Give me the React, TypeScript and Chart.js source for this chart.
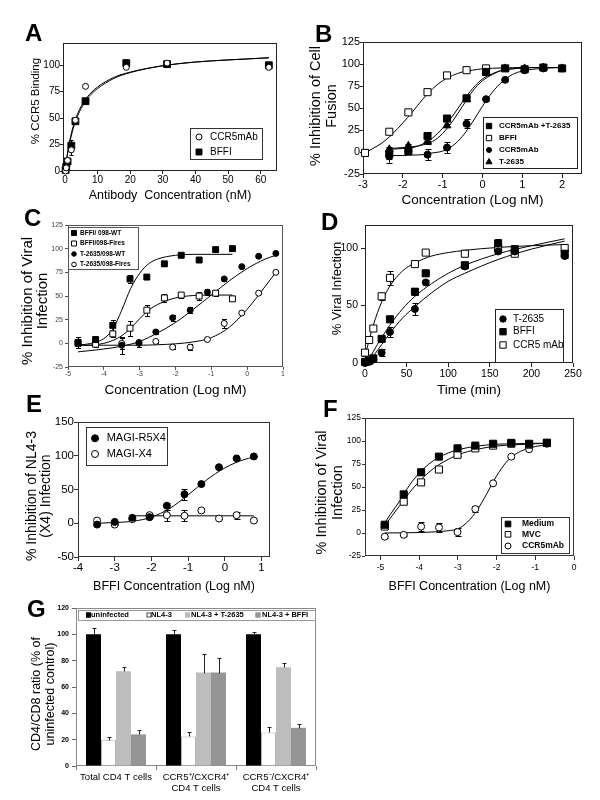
import React, { useEffect, useRef } from 'react';
import { Chart, registerables } from 'chart.js';

Chart.register(...registerables);

const FONT = '"Liberation Sans", Arial, Helvetica, sans-serif';

/* ---------------- Panel A ---------------- */
const aXTitle = 'Antibody  Concentration (nM)';
const aYTitle = ['% CCR5 Binding'];
const aXTicks = [0, 10, 20, 30, 40, 50, 60];
const aYTicks = [0, 25, 50, 75, 100];
const aNames = ['CCR5mAb', 'BFFI'];
const aDose = [0.2, 0.4, 0.8, 1.95, 3.2, 6.3, 18.8, 31.3, 62.5];
const aCCR5mAb = [0, 3, 10, 20, 48, 80, 98, 102, 98];
const aCCR5mAbErr = [0, 0, 1, 5, 2, 0, 1, 1, 1];
const aBFFI = [1, 4, 9, 24, 47, 66, 102, 101, 100];
const aBFFIErr = [0, 1, 2, 5, 2, 1, 1, 1, 1];
const aFitDose = [0, 1, 2, 3, 4, 6, 8, 10, 15, 20, 30, 40, 50, 62.5];
const aFitCCR5mAb = [0, 21, 36, 47, 55, 66.5, 74, 79.5, 88.5, 93.5, 99.5, 103, 105, 107];
const aFitBFFI = [0, 20, 34, 45, 53, 64.5, 72.5, 78, 87.5, 93, 99.5, 103, 105, 107];

/* ---------------- Panel B ---------------- */
const bXTitle = 'Concentration (Log nM)';
const bYTitle = ['% Inhibition of Cell', 'Fusion'];
const bXTicks = [-3, -2, -1, 0, 1, 2];
const bYTicks = [-25, 0, 25, 50, 75, 100, 125];
const bNames = ['CCR5mAb +T-2635', 'BFFI', 'CCR5mAb', 'T-2635'];
const bBFFIDose = [-2.95, -2.34, -1.86, -1.38, -0.89, -0.4, 0.09];
const bBFFI = [-1, 23, 45, 68, 87, 93, 95];
const bBFFIErr = [4, 3, 1, 1, 1, 1, 1];
const bDose = [-2.34, -1.86, -1.38, -0.89, -0.4, 0.09, 0.57, 1.06, 1.53, 2.0];
const bCombo = [-2, 1, 18, 38, 61, 91, 95, 94, 96, 95];
const bComboErr = [6, 3, 5, 3, 3, 3, 1, 1, 1, 1];
const bMab = [-5, 1, -3, 5, 32, 60, 82, 93, 95, 95];
const bMabErr = [7, 2, 6, 6, 5, 2, 1, 1, 1, 1];
const bT2635 = [3, 7, 12, 30, 60, 92, 95, 95, 96, 95];
const bT2635Err = [3, 2, 3, 2, 2, 1, 1, 1, 1, 1];
const bFitBFFIDose = [-2.95, -2.75, -2.5, -2.25, -2.0, -1.75, -1.5, -1.25, -1.0, -0.75, -0.5, -0.25, 0, 0.5, 1.0, 1.5, 2.0];
const bFitBFFI = [-1, 4, 11, 21, 33, 46, 60, 72, 81, 87, 91, 93, 94.5, 95.5, 96, 96, 96];
const bFitDose = [-2.34, -2.0, -1.75, -1.5, -1.25, -1.0, -0.75, -0.5, -0.25, 0, 0.25, 0.5, 0.75, 1.0, 1.5, 2.0];
const bFitCombo = [3, 4, 5, 9, 16, 27, 41, 57, 72, 83, 89, 93, 94.5, 95.5, 96, 96];
const bFitT2635 = [4, 5, 6, 8, 12, 21, 35, 52, 69, 81, 88, 93, 94.5, 95.5, 96, 96];
const bFitMab = [-4, -4, -3.5, -3, -1, 1, 7, 18, 34, 52, 68, 80, 88, 92, 95, 96];

/* ---------------- Panel C ---------------- */
const cXTitle = 'Concentration (Log nM)';
const cYTitle = ['% Inhibition of Viral', 'Infection'];
const cXTicks = [-5, -4, -3, -2, -1, 0, 1];
const cYTicks = [-25, 0, 25, 50, 75, 100, 125];
const cNames = ['BFFI/ 098-WT', 'BFFI/098-Fires', 'T-2635/098-WT', 'T-2635/098-Fires'];
const cBFFIDose = [-4.72, -4.23, -3.75, -3.27, -2.8, -2.31, -1.84, -1.34, -0.88, -0.41];
const cBFFIWT = [1, 4, 19, 68, 70, 84, 93, 88, 99, 100];
const cBFFIWTErr = [6, 2, 6, 4, 0, 2, 1, 0, 0, 0];
const cBFFIFires = [0, -1, 10, 16, 35, 48, 51, 50, 53, 47];
const cBFFIFiresErr = [3, 3, 3, 8, 6, 4, 3, 4, 3, 0];
const cTDose = [-3.5, -3.02, -2.55, -2.08, -1.59, -1.11, -0.64, -0.15, 0.32, 0.8];
const cT2635WT = [-2, 0, 12, 27, 35, 54, 68, 81, 92, 95];
const cT2635WTErr = [9, 4, 2, 3, 3, 3, 2, 1, 1, 1];
const cT2635Fires = [0, 1, 2, -4, -4, 4, 21, 32, 53, 75];
const cT2635FiresErr = [6, 2, 2, 2, 3, 1, 5, 1, 1, 1];
const cFitBFFIDose = [-4.72, -4.5, -4.25, -4.0, -3.75, -3.5, -3.25, -3.0, -2.75, -2.5, -2.0, -1.5, -1.0, -0.41];
const cFitBFFIWT = [-2, -1, 1, 5, 15, 35, 58, 74, 84, 89, 93, 94, 94, 94];
const cFitBFFIFires = [-2, -2, -1.5, 0, 3, 8, 16, 26, 35, 41, 48, 50.5, 51, 51];
const cFitTDose = [-4.72, -4.0, -3.5, -3.0, -2.5, -2.0, -1.5, -1.0, -0.5, 0, 0.5, 0.8];
const cFitT2635WT = [-9, -6, -3, 2, 11, 22, 36, 51, 66, 79, 89, 93];
const cFitT2635Fires = [-2, -2, -2, -2, -1.5, -0.5, 1.5, 6, 17, 36, 60, 75];

/* ---------------- Panel D ---------------- */
const dXTitle = 'Time (min)';
const dYTitle = ['% Viral Infection'];
const dXTicks = [0, 50, 100, 150, 200, 250];
const dYTicks = [0, 50, 100];
const dNames = ['T-2635', 'BFFI', 'CCR5 mAb'];
const dTime = [0, 5, 10, 20, 30, 60, 73, 120, 160, 180, 240];
const dT2635 = [0, 1, 3, 9, 27, 47, 70, 84, 97, 97, 93];
const dT2635Err = [1, 1, 2, 3, 4, 5, 2, 1, 1, 1, 2];
const dBFFI = [1, 2, 4, 21, 38, 62, 78, 85, 104, 99, 95];
const dBFFIErr = [1, 1, 3, 2, 2, 3, 1, 1, 4, 1, 3];
const dCCR5 = [9, 20, 30, 58, 74, 86, 96, 95, 100, 95, 100];
const dCCR5Err = [3, 2, 2, 3, 6, 1, 1, 1, 1, 1, 3];
const dFitTime = [3, 5, 10, 20, 30, 45, 60, 80, 100, 120, 160, 200, 240];
const dFitT2635 = [0, 1, 6, 16, 26, 39, 49, 61, 71, 78, 90, 99, 106];
const dFitBFFI = [0, 3, 10, 22, 33, 47, 58, 69, 78, 85, 95, 102, 108];
const dFitCCRTime = [0, 5, 10, 20, 30, 45, 60, 80, 100, 120, 160, 200, 240];
const dFitCCR5 = [6, 20, 33, 53, 67, 80, 87, 93, 96, 98, 100.5, 102, 103];

/* ---------------- Panel E ---------------- */
const eXTitle = 'BFFI Concentration (Log nM)';
const eYTitle = ['% Inhibition of NL4-3', '(X4) Infection'];
const eXTicks = [-4, -3, -2, -1, 0, 1];
const eYTicks = [-50, 0, 50, 100, 150];
const eNames = ['MAGI-R5X4', 'MAGI-X4'];
const eDose = [-3.48, -3.0, -2.52, -2.05, -1.58, -1.1, -0.64, -0.16, 0.32, 0.79];
const eR5X4 = [-2, 2, 8, 9, 26, 43, 58, 83, 96, 99];
const eR5X4Err = [1, 1, 2, 1, 4, 8, 2, 1, 1, 1];
const eX4 = [4, -2, 6, 12, 12, 11, 19, 7, 12, 4];
const eX4Err = [1, 1, 1, 1, 8, 8, 2, 1, 5, 1];
const eFitDose = [-3.48, -3.0, -2.5, -2.0, -1.5, -1.0, -0.5, 0, 0.5, 0.79];
const eFitR5X4 = [0, 1, 3, 9, 22, 42, 64, 82, 94, 98];
const eFitX4Dose = [-2.6, 0.79];
const eFitX4 = [11, 11];

/* ---------------- Panel F ---------------- */
const fXTitle = 'BFFI Concentration (Log nM)';
const fYTitle = ['% Inhibition of Viral', 'Infection'];
const fXTicks = [-5, -4, -3, -2, -1, 0];
const fYTicks = [-25, 0, 25, 50, 75, 100, 125];
const fNames = ['Medium', 'MVC', 'CCR5mAb'];
const fDose = [-4.89, -4.4, -3.95, -3.49, -3.01, -2.55, -2.09, -1.62, -1.16, -0.7];
const fMedium = [9, 42, 66, 83, 92, 95, 97, 98, 97, 98];
const fMediumErr = [1, 1, 1, 1, 1, 1, 1, 1, 1, 1];
const fMVC = [7, 34, 55, 69, 85, 92, 95, 97, 96, 98];
const fMVCErr = [1, 1, 2, 2, 1, 1, 1, 1, 1, 1];
const fCCR5mAb = [-4, -2, 7, 6, 1, 26, 54, 83, 91, 97];
const fCCR5mAbErr = [1, 1, 5, 5, 4, 3, 1, 1, 1, 1];
const fFitDose = [-4.89, -4.75, -4.5, -4.25, -4.0, -3.75, -3.5, -3.25, -3.0, -2.5, -2.0, -1.5, -1.0, -0.7];
const fFitMedium = [11, 20, 35, 52, 65, 75, 82, 87, 90.5, 94.5, 96.5, 97, 97.5, 97.5];
const fFitMVC = [8, 16, 30, 44, 56, 66, 74, 80, 85, 91, 94.5, 96, 97, 97.5];
const fFitCCRDose = [-4.89, -4.0, -3.5, -3.25, -3.0, -2.75, -2.5, -2.25, -2.0, -1.75, -1.5, -1.25, -1.0, -0.7];
const fFitCCR5mAb = [0, 0.5, 1.5, 2.5, 4.5, 12, 25, 43, 62, 77, 86, 91, 94, 96];

/* ---------------- Panel G ---------------- */
const gYTitle = ['CD4/CD8 ratio (% of', 'uninfected control)'];
const gYTicks = [0, 20, 40, 60, 80, 100, 120];
const gCategories = ['Total CD4 T cells', ['CCR5\u207A/CXCR4\u207A', 'CD4 T cells'], ['CCR5\u207B/CXCR4\u207A', 'CD4 T cells']];
const gNames = ['uninfected', 'NL4-3', 'NL4-3 + T-2635', 'NL4-3 + BFFI'];
const gUninfected = [100, 100, 100];
const gUninfectedErr = [4.5, 3.5, 2];
const gNL43 = [20, 22.5, 25.5];
const gNL43Err = [2, 3.5, 4.5];
const gT2635 = [72, 71, 75];
const gT2635Err = [3, 14, 3.5];
const gBFFI = [24, 71, 29];
const gBFFIErr = [3, 11, 3];

/* ---------------- helpers ---------------- */
type Rect = [number, number, number, number];
type Marker = { style: 'circle' | 'rect' | 'triangle'; fill: boolean; r: number };

function drawMarker(ctx: CanvasRenderingContext2D, x: number, y: number, m: Marker) {
  ctx.save();
  ctx.beginPath();
  if (m.style === 'circle') ctx.arc(x, y, m.r, 0, Math.PI * 2);
  else if (m.style === 'rect') {
    const s = m.r * Math.SQRT1_2;
    ctx.rect(x - s, y - s, 2 * s, 2 * s);
  } else {
    const a = (2 * Math.PI) / 3;
    ctx.moveTo(x, y - m.r);
    ctx.lineTo(x + m.r * Math.sin(a), y - m.r * Math.cos(a));
    ctx.lineTo(x + m.r * Math.sin(2 * a), y - m.r * Math.cos(2 * a));
    ctx.closePath();
  }
  ctx.fillStyle = m.fill ? '#000' : '#fff';
  ctx.fill();
  ctx.lineWidth = 1;
  ctx.strokeStyle = '#000';
  ctx.stroke();
  ctx.restore();
}

const framePlugin = {
  id: 'frame',
  beforeDatasetsDraw(chart: any, _a: any, o: any) {
    const { left, top, right, bottom } = chart.chartArea;
    const ctx = chart.ctx;
    ctx.save();
    ctx.strokeStyle = o.color || '#000';
    ctx.lineWidth = 1;
    ctx.strokeRect(Math.round(left) + 0.5, Math.round(top) + 0.5, Math.round(right - left) - 1, Math.round(bottom - top) - 1);
    ctx.restore();
  },
};

function drawErrors(chart: any, o: any) {
  const ctx = chart.ctx;
  ctx.save();
  ctx.strokeStyle = o.color || '#000';
  ctx.lineWidth = 1;
  chart.data.datasets.forEach((ds: any, di: number) => {
    const errs = ds.errors;
    if (!errs) return;
    const meta = chart.getDatasetMeta(di);
    const ys = chart.scales[meta.yAxisID];
    meta.data.forEach((el: any, i: number) => {
      const e = errs[i];
      if (!e) return;
      const raw = ds.data[i];
      const v = typeof raw === 'number' ? raw : raw.y;
      const x = Math.round(el.x) + 0.5;
      const yTop = Math.round(ys.getPixelForValue(v + e)) + 0.5;
      const yBot = Math.round(ys.getPixelForValue(o.up ? v : v - e)) + 0.5;
      const c = o.cap;
      ctx.beginPath();
      ctx.moveTo(x, yTop);
      ctx.lineTo(x, yBot);
      ctx.moveTo(x - c, yTop);
      ctx.lineTo(x + c, yTop);
      if (!o.up) {
        ctx.moveTo(x - c, yBot);
        ctx.lineTo(x + c, yBot);
      }
      ctx.stroke();
    });
  });
  ctx.restore();
}

const errorBarPlugin = {
  id: 'errorBars',
  beforeDatasetsDraw(chart: any, _a: any, o: any) {
    if (!o.after) drawErrors(chart, o);
  },
  afterDatasetsDraw(chart: any, _a: any, o: any) {
    if (o.after) drawErrors(chart, o);
  },
};

const boxLegendPlugin = {
  id: 'boxLegend',
  afterDatasetsDraw(chart: any, _a: any, o: any) {
    const ctx = chart.ctx;
    const b = o.box;
    ctx.save();
    ctx.fillStyle = '#fff';
    ctx.fillRect(b[0], b[1], b[2] - b[0], b[3] - b[1]);
    ctx.strokeStyle = o.border || '#000';
    ctx.lineWidth = 1;
    ctx.strokeRect(b[0] + 0.5, b[1] + 0.5, b[2] - b[0], b[3] - b[1]);
    ctx.font = o.fontCss;
    ctx.textBaseline = 'middle';
    ctx.textAlign = 'left';
    o.items.forEach((it: any) => {
      if (it.swatch) {
        const s = it.size;
        ctx.fillStyle = it.swatch;
        ctx.fillRect(it.x, it.y - s / 2, s, s);
        ctx.strokeStyle = it.stroke;
        ctx.strokeRect(it.x + 0.5, it.y - s / 2 + 0.5, s - 1, s - 1);
      } else {
        drawMarker(ctx, it.x, it.y, { style: it.style, fill: it.fill, r: it.r });
      }
      ctx.fillStyle = '#000';
      ctx.fillText(it.label, it.tx, it.y);
    });
    ctx.restore();
  },
};

const yTitlePlugin = {
  id: 'yTitle',
  afterDraw(chart: any, _a: any, o: any) {
    const ctx = chart.ctx;
    ctx.save();
    ctx.font = o.fontCss;
    ctx.fillStyle = '#000';
    ctx.textAlign = 'center';
    ctx.textBaseline = 'middle';
    ctx.translate(o.x, o.y);
    ctx.rotate(-Math.PI / 2);
    o.lines.forEach((l: string, i: number) => ctx.fillText(l, 0, i * o.dy));
    ctx.restore();
  },
};

type Series = { label: string; xs: number[]; ys: number[]; errs?: number[]; marker: Marker; legendR: number };
type Curve = { xs: number[]; ys: number[] };

interface ScatterSpec {
  canvas: Rect;
  plot: Rect;
  xMin: number; xMax: number; xTicks: number[]; xTitle: string; xTitleSize: number; xTitleY: number;
  yMin: number; yMax: number; yTicks: number[];
  yTitle: string[]; yTitleSize: number; yTitleX: number; yTitleDy: number; yTitleY: number;
  tickSize: number; tickColor: string; lineColor: string;
  tlX: number; padX: number; tlY: number; padY: number;
  series: Series[]; curves: Curve[];
  legendBox: Rect; legendFont: string; legendMX: number; legendTX: number; legendY: number[]; legendBorder: string;
  cap: number;
}

function scatterConfig(s: ScatterSpec): any {
  const [cx, cy, cw, ch] = s.canvas;
  const [pl, pt, pr, pb] = s.plot;
  const tickFont = { family: FONT, size: s.tickSize, lineHeight: 1.2 };
  const xTitlePad = cy + ch - s.xTitleY - (s.xTitleSize * 1.2) / 2;
  const datasets: any[] = [];
  s.series.forEach((se) => {
    datasets.push({
      label: se.label,
      data: se.xs.map((x, i) => ({ x, y: se.ys[i] })),
      errors: se.errs,
      showLine: false,
      pointStyle: se.marker.style,
      pointRadius: se.marker.r,
      pointBorderWidth: 1,
      pointBackgroundColor: se.marker.fill ? '#000' : '#fff',
      pointBorderColor: '#000',
      clip: false,
    });
  });
  s.curves.forEach((c) =>
    datasets.push({
      data: c.xs.map((x, i) => ({ x, y: c.ys[i] })),
      showLine: true,
      pointRadius: 0,
      borderColor: '#000',
      borderWidth: 1,
      cubicInterpolationMode: 'monotone',
      fill: false,
    })
  );
  const b = s.legendBox;
  return {
    type: 'scatter',
    data: { datasets },
    options: {
      responsive: false,
      animation: false,
      devicePixelRatio: 1,
      events: [],
      layout: { padding: { left: 0, top: pt - cy, right: cx + cw - pr, bottom: 0 } },
      scales: {
        x: {
          type: 'linear',
          position: 'bottom',
          min: s.xMin,
          max: s.xMax,
          afterBuildTicks: (sc: any) => {
            sc.ticks = s.xTicks.map((v) => ({ value: v }));
          },
          afterFit: (sc: any) => {
            sc.height = cy + ch - pb;
          },
          grid: { drawOnChartArea: false, drawTicks: true, tickLength: s.tlX, color: s.lineColor, lineWidth: 1 },
          border: { display: false },
          ticks: { font: tickFont, color: s.tickColor, padding: s.padX, maxRotation: 0, autoSkip: false, callback: (v: any) => String(v) },
          title: {
            display: true,
            text: s.xTitle,
            color: '#000',
            font: { family: FONT, size: s.xTitleSize, lineHeight: 1.2 },
            padding: { top: 0, bottom: xTitlePad },
          },
        },
        y: {
          type: 'linear',
          position: 'left',
          min: s.yMin,
          max: s.yMax,
          afterBuildTicks: (sc: any) => {
            sc.ticks = s.yTicks.map((v) => ({ value: v }));
          },
          afterFit: (sc: any) => {
            sc.width = pl - cx;
          },
          grid: { drawOnChartArea: false, drawTicks: true, tickLength: s.tlY, color: s.lineColor, lineWidth: 1 },
          border: { display: false },
          ticks: { font: tickFont, color: s.tickColor, padding: s.padY, callback: (v: any) => String(v) },
        },
      },
      plugins: {
        legend: { display: false },
        tooltip: { enabled: false },
        frame: { color: s.lineColor },
        errorBars: { cap: s.cap, color: '#000', up: false, after: false },
        boxLegend: {
          box: [b[0] - cx, b[1] - cy, b[2] - cx, b[3] - cy],
          border: s.legendBorder,
          fontCss: s.legendFont,
          items: s.series.map((se, i) => ({
            label: se.label,
            style: se.marker.style,
            fill: se.marker.fill,
            r: se.legendR,
            x: s.legendMX - cx,
            y: s.legendY[i] - cy,
            tx: s.legendTX - cx,
          })),
        },
        yTitle: {
          lines: s.yTitle,
          fontCss: `${s.yTitleSize}px ${FONT}`,
          x: s.yTitleX - cx,
          y: s.yTitleY - cy,
          dy: s.yTitleDy,
        },
      },
    },
    plugins: [framePlugin, errorBarPlugin, boxLegendPlugin, yTitlePlugin],
  };
}

/* ---------------- panel specs ---------------- */
const circleO = (r: number): Marker => ({ style: 'circle', fill: false, r });
const circleF = (r: number): Marker => ({ style: 'circle', fill: true, r });
const rectO = (r: number): Marker => ({ style: 'rect', fill: false, r });
const rectF = (r: number): Marker => ({ style: 'rect', fill: true, r });
const triF = (r: number): Marker => ({ style: 'triangle', fill: true, r });

const specA: ScatterSpec = {
  canvas: [0, 0, 300, 206], plot: [63, 43, 277, 171],
  xMin: -0.6, xMax: 65, xTicks: aXTicks, xTitle: aXTitle, xTitleSize: 12.5, xTitleY: 196,
  yMin: 0, yMax: 121, yTicks: aYTicks,
  yTitle: aYTitle, yTitleSize: 11.5, yTitleX: 36, yTitleDy: 14, yTitleY: 101,
  tickSize: 10, tickColor: '#000', lineColor: '#222', tlX: 3, padX: 0, tlY: 3, padY: 0,
  series: [
    { label: aNames[0], xs: aDose, ys: aCCR5mAb, errs: aCCR5mAbErr, marker: circleO(3), legendR: 3 },
    { label: aNames[1], xs: aDose, ys: aBFFI, errs: aBFFIErr, marker: rectF(4.8), legendR: 4.2 },
  ],
  curves: [
    { xs: aFitDose, ys: aFitCCR5mAb },
    { xs: aFitDose, ys: aFitBFFI },
  ],
  legendBox: [190, 128, 262, 159], legendFont: `10px ${FONT}`, legendMX: 199, legendTX: 210, legendY: [137, 152], legendBorder: '#333',
  cap: 2,
};

const specB: ScatterSpec = {
  canvas: [300, 0, 300, 210], plot: [363, 42, 582, 174],
  xMin: -3, xMax: 2.5, xTicks: bXTicks, xTitle: bXTitle, xTitleSize: 13.5, xTitleY: 200,
  yMin: -25, yMax: 125, yTicks: bYTicks,
  yTitle: bYTitle, yTitleSize: 14.5, yTitleX: 316, yTitleDy: 16, yTitleY: 106,
  tickSize: 11, tickColor: '#000', lineColor: '#222', tlX: 4, padX: 0, tlY: 3, padY: 0,
  series: [
    { label: bNames[0], xs: bDose, ys: bCombo, errs: bComboErr, marker: rectF(5), legendR: 3.8 },
    { label: bNames[1], xs: bBFFIDose, ys: bBFFI, errs: bBFFIErr, marker: rectO(5), legendR: 3.8 },
    { label: bNames[2], xs: bDose, ys: bMab, errs: bMabErr, marker: circleF(3.5), legendR: 2.5 },
    { label: bNames[3], xs: bDose, ys: bT2635, errs: bT2635Err, marker: triF(4.5), legendR: 3.5 },
  ],
  curves: [
    { xs: bFitBFFIDose, ys: bFitBFFI },
    { xs: bFitDose, ys: bFitCombo },
    { xs: bFitDose, ys: bFitT2635 },
    { xs: bFitDose, ys: bFitMab },
  ],
  legendBox: [483, 117, 577, 168], legendFont: `bold 8px ${FONT}`, legendMX: 489, legendTX: 499, legendY: [126, 138, 150, 162], legendBorder: '#222',
  cap: 3,
};

const specC: ScatterSpec = {
  canvas: [0, 205, 300, 195], plot: [68, 225, 283, 367],
  xMin: -5, xMax: 1, xTicks: cXTicks, xTitle: cXTitle, xTitleSize: 13.5, xTitleY: 390,
  yMin: -25, yMax: 125, yTicks: cYTicks,
  yTitle: cYTitle, yTitleSize: 15, yTitleX: 27.5, yTitleDy: 15.5, yTitleY: 301,
  tickSize: 7, tickColor: '#444', lineColor: '#555', tlX: 3, padX: 0, tlY: 3, padY: 2,
  series: [
    { label: cNames[0], xs: cBFFIDose, ys: cBFFIWT, errs: cBFFIWTErr, marker: rectF(4.2), legendR: 3.5 },
    { label: cNames[1], xs: cBFFIDose, ys: cBFFIFires, errs: cBFFIFiresErr, marker: rectO(4.2), legendR: 3.5 },
    { label: cNames[2], xs: cTDose, ys: cT2635WT, errs: cT2635WTErr, marker: circleF(3), legendR: 2.3 },
    { label: cNames[3], xs: cTDose, ys: cT2635Fires, errs: cT2635FiresErr, marker: circleO(3), legendR: 2.3 },
  ],
  curves: [
    { xs: cFitBFFIDose, ys: cFitBFFIWT },
    { xs: cFitBFFIDose, ys: cFitBFFIFires },
    { xs: cFitTDose, ys: cFitT2635WT },
    { xs: cFitTDose, ys: cFitT2635Fires },
  ],
  legendBox: [68, 227, 138, 269], legendFont: `bold 6.5px ${FONT}`, legendMX: 74, legendTX: 80, legendY: [233, 243.5, 254, 264.5], legendBorder: '#555',
  cap: 2.5,
};

const specD: ScatterSpec = {
  canvas: [300, 210, 300, 190], plot: [365, 225, 573, 363],
  xMin: 0, xMax: 250, xTicks: dXTicks, xTitle: dXTitle, xTitleSize: 13.5, xTitleY: 390,
  yMin: 0, yMax: 120, yTicks: dYTicks,
  yTitle: dYTitle, yTitleSize: 13, yTitleX: 337, yTitleDy: 15, yTitleY: 288.5,
  tickSize: 10.5, tickColor: '#000', lineColor: '#222', tlX: 4, padX: 1, tlY: 4, padY: 3,
  series: [
    { label: dNames[0], xs: dTime, ys: dT2635, errs: dT2635Err, marker: circleF(3.5), legendR: 3.2 },
    { label: dNames[1], xs: dTime, ys: dBFFI, errs: dBFFIErr, marker: rectF(5), legendR: 4.5 },
    { label: dNames[2], xs: dTime, ys: dCCR5, errs: dCCR5Err, marker: rectO(5), legendR: 4.5 },
  ],
  curves: [
    { xs: dFitTime, ys: dFitT2635 },
    { xs: dFitTime, ys: dFitBFFI },
    { xs: dFitCCRTime, ys: dFitCCR5 },
  ],
  legendBox: [495, 309, 563, 362], legendFont: `10px ${FONT}`, legendMX: 503, legendTX: 513, legendY: [319, 331.7, 345], legendBorder: '#222',
  cap: 3,
};

const specE: ScatterSpec = {
  canvas: [0, 400, 300, 197], plot: [78, 422, 270, 557],
  xMin: -4, xMax: 1.23, xTicks: eXTicks, xTitle: eXTitle, xTitleSize: 12.5, xTitleY: 587,
  yMin: -50, yMax: 150, yTicks: eYTicks,
  yTitle: eYTitle, yTitleSize: 14, yTitleX: 32, yTitleDy: 14, yTitleY: 496,
  tickSize: 11.5, tickColor: '#000', lineColor: '#333', tlX: 4, padX: 0, tlY: 4, padY: 0,
  series: [
    { label: eNames[0], xs: eDose, ys: eR5X4, errs: eR5X4Err, marker: circleF(3.5), legendR: 3.5 },
    { label: eNames[1], xs: eDose, ys: eX4, errs: eX4Err, marker: circleO(3.5), legendR: 3.5 },
  ],
  curves: [
    { xs: eFitDose, ys: eFitR5X4 },
    { xs: eFitX4Dose, ys: eFitX4 },
  ],
  legendBox: [86, 427, 167, 465], legendFont: `11px ${FONT}`, legendMX: 95, legendTX: 106.7, legendY: [438.3, 454], legendBorder: '#333',
  cap: 3,
};

const specF: ScatterSpec = {
  canvas: [300, 400, 300, 197], plot: [365, 418, 574, 556],
  xMin: -5.4, xMax: 0, xTicks: fXTicks, xTitle: fXTitle, xTitleSize: 12.5, xTitleY: 587,
  yMin: -25, yMax: 125, yTicks: fYTicks,
  yTitle: fYTitle, yTitleSize: 14.5, yTitleX: 322, yTitleDy: 16, yTitleY: 492.5,
  tickSize: 8.5, tickColor: '#000', lineColor: '#333', tlX: 4, padX: 3, tlY: 3, padY: 1,
  series: [
    { label: fNames[0], xs: fDose, ys: fMedium, errs: fMediumErr, marker: rectF(5), legendR: 4 },
    { label: fNames[1], xs: fDose, ys: fMVC, errs: fMVCErr, marker: rectO(5), legendR: 4 },
    { label: fNames[2], xs: fDose, ys: fCCR5mAb, errs: fCCR5mAbErr, marker: circleO(3.5), legendR: 3 },
  ],
  curves: [
    { xs: fFitDose, ys: fFitMedium },
    { xs: fFitDose, ys: fFitMVC },
    { xs: fFitCCRDose, ys: fFitCCR5mAb },
  ],
  legendBox: [501, 517, 569, 553], legendFont: `bold 8.5px ${FONT}`, legendMX: 508, legendTX: 522, legendY: [524, 534.3, 546], legendBorder: '#333',
  cap: 3,
};

/* ---------------- Panel G config ---------------- */
const gCanvas: Rect = [0, 597, 330, 203];
const gPlot: Rect = [76, 608, 316, 766];

function barConfig(): any {
  const [cx, cy, cw, ch] = gCanvas;
  const [pl, pt, pr, pb] = gPlot;
  const colors = ['#000000', '#ffffff', '#bdbdbd', '#959595'];
  const strokes = ['#000000', '#b5b5b5', '#bdbdbd', '#959595'];
  const values = [gUninfected, gNL43, gT2635, gBFFI];
  const errs = [gUninfectedErr, gNL43Err, gT2635Err, gBFFIErr];
  const swX = [86, 146.5, 185, 255.5];
  const txX = [91, 151, 191, 262];
  return {
    type: 'bar',
    data: {
      labels: gCategories,
      datasets: gNames.map((n, i) => ({
        label: n,
        data: values[i],
        errors: errs[i],
        backgroundColor: colors[i],
        borderColor: strokes[i],
        borderWidth: i === 1 ? 1 : 0,
        categoryPercentage: 0.75,
        barPercentage: 1,
      })),
    },
    options: {
      responsive: false,
      animation: false,
      devicePixelRatio: 1,
      events: [],
      layout: { padding: { left: 0, top: pt - cy, right: cx + cw - pr, bottom: 0 } },
      scales: {
        x: {
          type: 'category',
          afterFit: (sc: any) => {
            sc.height = cy + ch - pb;
          },
          grid: { offset: true, drawOnChartArea: false, drawTicks: true, tickLength: 4, color: '#777' },
          border: { display: false },
          ticks: { font: { family: FONT, size: 9.5, lineHeight: 1.16 }, color: '#000', padding: 2, maxRotation: 0, autoSkip: false },
        },
        y: {
          type: 'linear',
          min: 0,
          max: 120,
          afterBuildTicks: (sc: any) => {
            sc.ticks = gYTicks.map((v) => ({ value: v }));
          },
          afterFit: (sc: any) => {
            sc.width = pl - cx;
          },
          grid: { drawOnChartArea: false, drawTicks: true, tickLength: 4, color: '#666' },
          border: { display: false },
          ticks: { font: { family: FONT, size: 7, weight: 'bold' }, color: '#000', padding: 3, callback: (v: any) => String(v) },
        },
      },
      plugins: {
        legend: { display: false },
        tooltip: { enabled: false },
        frame: { color: '#888' },
        errorBars: { cap: 2, color: '#222', up: true, after: true },
        boxLegend: {
          box: [78 - cx, 610 - cy, 315 - cx, 620 - cy],
          border: '#999',
          fontCss: `bold 7.5px ${FONT}`,
          items: gNames.map((n, i) => ({
            label: n,
            swatch: colors[i],
            stroke: i === 1 ? '#444' : colors[i],
            size: 5,
            x: swX[i] - cx,
            y: 615 - cy,
            tx: txX[i] - cx,
          })),
        },
        yTitle: {
          lines: gYTitle,
          fontCss: `12.5px ${FONT}`,
          x: 37 - cx,
          y: 694 - cy,
          dy: 14,
        },
      },
    },
    plugins: [framePlugin, errorBarPlugin, boxLegendPlugin, yTitlePlugin],
  };
}

/* ---------------- components ---------------- */
function ChartCanvas({ rect, build }: { rect: Rect; build: () => any }) {
  const ref = useRef<HTMLCanvasElement>(null);
  useEffect(() => {
    const chart = new Chart(ref.current as HTMLCanvasElement, build());
    return () => chart.destroy();
  }, []);
  const [x, y, w, h] = rect;
  return <canvas ref={ref} width={w} height={h} style={{ position: 'absolute', left: x, top: y, width: w, height: h }} />;
}

const letters: { t: string; x: number; y: number }[] = [
  { t: 'A', x: 25, y: 21 },
  { t: 'B', x: 315, y: 22 },
  { t: 'C', x: 24, y: 206 },
  { t: 'D', x: 321, y: 210 },
  { t: 'E', x: 26, y: 392 },
  { t: 'F', x: 323, y: 397 },
  { t: 'G', x: 27, y: 597 },
];

export default function App() {
  return (
    <div style={{ position: 'absolute', left: 0, top: 0, width: 600, height: 800, background: '#fff', overflow: 'hidden' }}>
      <ChartCanvas rect={specA.canvas} build={() => scatterConfig(specA)} />
      <ChartCanvas rect={specB.canvas} build={() => scatterConfig(specB)} />
      <ChartCanvas rect={specC.canvas} build={() => scatterConfig(specC)} />
      <ChartCanvas rect={specD.canvas} build={() => scatterConfig(specD)} />
      <ChartCanvas rect={specE.canvas} build={() => scatterConfig(specE)} />
      <ChartCanvas rect={specF.canvas} build={() => scatterConfig(specF)} />
      <ChartCanvas rect={gCanvas} build={barConfig} />
      {letters.map((l) => (
        <div
          key={l.t}
          style={{ position: 'absolute', left: l.x, top: l.y, fontFamily: FONT, fontWeight: 'bold', fontSize: 24, lineHeight: '24px', color: '#000' }}
        >
          {l.t}
        </div>
      ))}
    </div>
  );
}
